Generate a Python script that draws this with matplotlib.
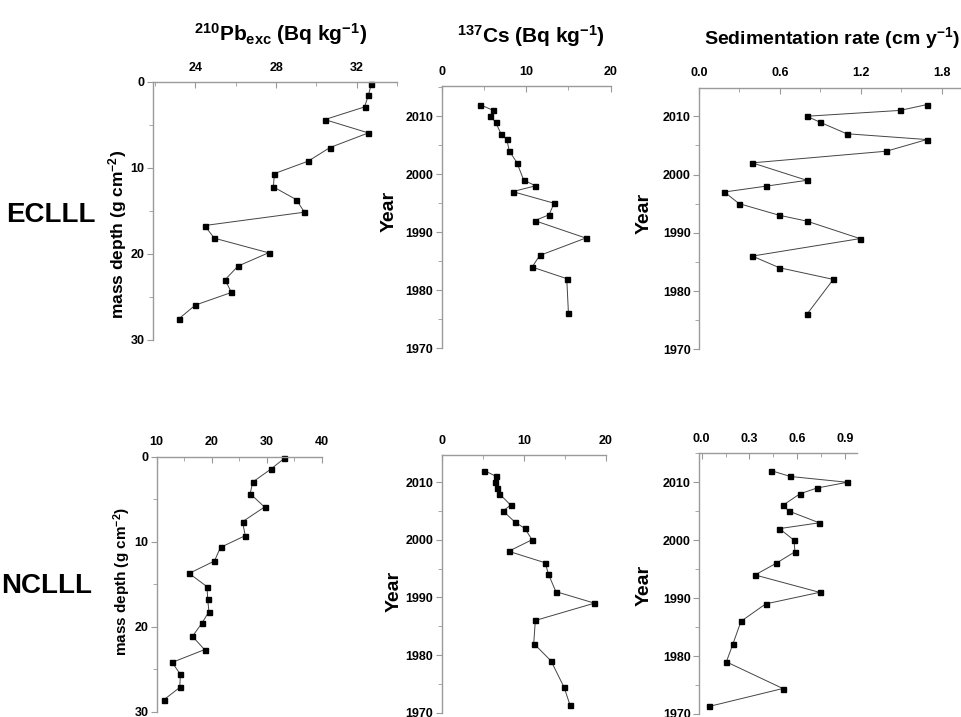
import numpy as np
import matplotlib
matplotlib.use('Agg')
import matplotlib.pyplot as plt
from matplotlib.ticker import MultipleLocator, FormatStrFormatter

plt.rcParams['font.family'] = ['Liberation Sans', 'DejaVu Sans']
plt.rcParams['font.weight'] = 'bold'
plt.rcParams['mathtext.default'] = 'regular'

# ECLLL - 210Pb excess vs mass depth
ec_pb = [32.73, 32.58, 32.39, 30.42, 32.58, 30.67, 29.6, 27.92, 27.87, 29.0,
         29.41, 24.46, 24.94, 27.63, 26.12, 25.47, 25.79, 24.0, 23.17]
ec_pb_depth = [0.2, 1.55, 2.9, 4.37, 5.92, 7.63, 9.2, 10.65, 12.2, 13.67,
               15.14, 16.69, 18.16, 19.86, 21.4, 23.0, 24.47, 25.94, 27.56]

# ECLLL - 137Cs vs year
ec_cs = [4.5, 6.1, 5.7, 6.37, 7.0, 7.7, 8.0, 8.9, 9.7, 11.1,
         8.4, 13.3, 12.7, 11.0, 17.05, 11.6, 10.7, 14.8, 15.0]
ec_cs_year = [2012, 2011, 2010, 2009, 2007, 2006, 2004, 2002, 1999, 1998,
              1997, 1995, 1993, 1992, 1989, 1986, 1984, 1982, 1976]

# ECLLL - sedimentation rate vs year
ec_sr = [1.69, 1.49, 0.80, 0.895, 1.095, 1.69, 1.39, 0.395, 0.80, 0.497,
         0.188, 0.297, 0.596, 0.80, 1.194, 0.395, 0.596, 0.996, 0.80]
ec_sr_year = [2012, 2011, 2010, 2009, 2007, 2006, 2004, 2002, 1999, 1998,
              1997, 1995, 1993, 1992, 1989, 1986, 1984, 1982, 1976]

# NCLLL - 210Pb excess vs mass depth
nc_pb = [33.2, 30.7, 27.45, 27.0, 29.6, 25.6, 26.1, 21.6, 20.5, 15.9,
         19.15, 19.27, 19.5, 18.2, 16.5, 18.7, 12.8, 14.3, 14.2, 11.3]
nc_pb_depth = [0.2, 1.49, 2.98, 4.35, 5.92, 7.65, 9.29, 10.67, 12.27, 13.73,
               15.29, 16.78, 18.24, 19.6, 21.14, 22.7, 24.2, 25.6, 27.14, 28.6]

# NCLLL - 137Cs vs year
nc_cs = [5.2, 6.6, 6.5, 6.7, 7.0, 8.4, 7.46, 8.96, 10.1, 11.0,
         8.15, 12.6, 13.0, 13.9, 18.6, 11.4, 11.2, 13.3, 14.9, 15.6]
nc_cs_year = [2012, 2011, 2010, 2009, 2008, 2006, 2005, 2003, 2002, 2000,
              1998, 1996, 1994, 1991, 1989, 1986, 1982, 1979, 1974.4, 1971.4]

# NCLLL - sedimentation rate vs year
nc_sr = [0.4375, 0.557, 0.915, 0.724, 0.617, 0.509, 0.55, 0.739, 0.488, 0.58,
         0.586, 0.467, 0.335, 0.741, 0.402, 0.247, 0.195, 0.155, 0.51, 0.046]
nc_sr_year = [2012, 2011, 2010, 2009, 2008, 2006, 2005, 2003, 2002, 2000,
              1998, 1996, 1994, 1991, 1989, 1986, 1982, 1979, 1974.4, 1971.3]

W, H = 961, 717
fig = plt.figure(figsize=(9.61, 7.17), dpi=100)


def make_ax(left, right, top, bottom):
    return fig.add_axes([left / W, 1 - bottom / H, (right - left) / W, (bottom - top) / H])


def style(ax, xmaj, xmin, ymaj, ymin):
    for s in ['right', 'bottom']:
        ax.spines[s].set_visible(False)
    for s in ['left', 'top']:
        ax.spines[s].set_color('#9a9a9a')
        ax.spines[s].set_linewidth(1.0)
    ax.xaxis.tick_top()
    ax.xaxis.set_major_locator(MultipleLocator(xmaj))
    ax.xaxis.set_minor_locator(MultipleLocator(xmin))
    ax.yaxis.set_major_locator(MultipleLocator(ymaj))
    ax.yaxis.set_minor_locator(MultipleLocator(ymin))
    ax.tick_params(axis='x', which='both', direction='in', color='#9a9a9a', pad=6,
                   labelsize=9)
    ax.tick_params(axis='x', which='major', length=4)
    ax.tick_params(axis='x', which='minor', length=3)
    ax.tick_params(axis='y', which='both', direction='out', color='#9a9a9a', pad=2,
                   labelsize=9)
    ax.tick_params(axis='y', which='major', length=4)
    ax.tick_params(axis='y', which='minor', length=3)
    ax.patch.set_alpha(0)


def draw(ax, x, y):
    ax.plot(x, y, color='#444444', lw=0.7, marker='s', ms=3.6,
            mfc='black', mec='black', clip_on=False)


year_font = dict(fontsize=14, fontweight='bold')

# top row
ax1 = make_ax(153, 397, 82, 340)
draw(ax1, ec_pb, ec_pb_depth)
ax1.set_xlim(21.9, 34)
ax1.set_ylim(30, 0)
style(ax1, 4, 2, 10, 5)
ax1.set_xticks([24, 28, 32])
ax1.set_ylabel('mass depth (g cm$^{-2}$)', fontsize=12.5, fontweight='bold')
ax1.yaxis.set_label_coords(-0.098, 0.41)

ax2 = make_ax(441.7, 610.7, 86, 348.3)
draw(ax2, ec_cs, ec_cs_year)
ax2.set_xlim(0, 20)
ax2.set_ylim(1970, 2015.2)
style(ax2, 10, 5, 10, 5)
ax2.set_ylabel('Year', **year_font)
ax2.yaxis.set_label_coords(-0.259, 0.52)

ax3 = make_ax(699, 961, 87.7, 349.3)
draw(ax3, ec_sr, ec_sr_year)
ax3.set_xlim(0, 1.943)
ax3.set_ylim(1970, 2014.9)
style(ax3, 0.6, 0.3, 10, 5)
ax3.set_xticks([0.0, 0.6, 1.2, 1.8])
ax3.xaxis.set_major_formatter(FormatStrFormatter('%.1f'))
ax3.set_ylabel('Year', **year_font)
ax3.yaxis.set_label_coords(-0.176, 0.52)

# bottom row
ax4 = make_ax(156.7, 321.7, 456.7, 711.7)
draw(ax4, nc_pb, nc_pb_depth)
ax4.set_xlim(10, 40)
ax4.set_ylim(30, 0)
style(ax4, 10, 5, 10, 5)
ax4.set_ylabel('mass depth (g cm$^{-2}$)', fontsize=11, fontweight='bold')
ax4.yaxis.set_label_coords(-0.144, 0.51)

ax5 = make_ax(441.7, 606, 455, 712.7)
draw(ax5, nc_cs, nc_cs_year)
ax5.set_xlim(0, 20)
ax5.set_ylim(1970, 2014.7)
style(ax5, 10, 5, 10, 5)
ax5.set_ylabel('Year', **year_font)
ax5.yaxis.set_label_coords(-0.24, 0.47)

ax6 = make_ax(699, 857.3, 453.3, 714)
draw(ax6, nc_sr, nc_sr_year)
ax6.set_xlim(-0.017, 0.978)
ax6.set_ylim(1970, 2015)
style(ax6, 0.3, 0.15, 10, 5)
ax6.set_xticks([0.0, 0.3, 0.6, 0.9])
ax6.xaxis.set_major_formatter(FormatStrFormatter('%.1f'))
ax6.set_ylabel('Year', **year_font)
ax6.yaxis.set_label_coords(-0.29, 0.495)

# column titles
fig.text(281 / W, 1 - 34 / H, '$^{210}$Pb$_{exc}$ (Bq kg$^{-1}$)', ha='center', va='center',
         fontsize=15, fontweight='bold')
fig.text(531 / W, 1 - 36 / H, '$^{137}$Cs (Bq kg$^{-1}$)', ha='center', va='center',
         fontsize=15, fontweight='bold')
fig.text(832 / W, 1 - 38 / H, 'Sedimentation rate (cm y$^{-1}$)', ha='center', va='center',
         fontsize=14, fontweight='bold')

# row labels
fig.text(51 / W, 1 - 215 / H, 'ECLLL', ha='center', va='center', fontsize=20, fontweight='bold')
fig.text(47 / W, 1 - 586 / H, 'NCLLL', ha='center', va='center', fontsize=20, fontweight='bold')

fig.savefig('out.png', dpi=100)
